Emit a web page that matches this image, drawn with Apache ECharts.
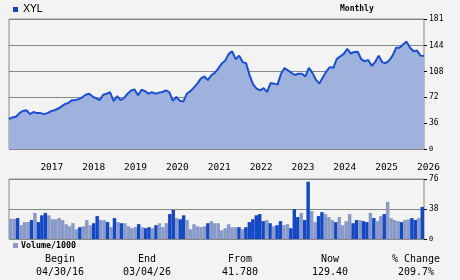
<!DOCTYPE html>
<html><head><meta charset="utf-8">
<script src="https://cdn.jsdelivr.net/npm/echarts@6/dist/echarts.min.js"></script>
<style>html,body{margin:0;padding:0;background:#f3f3f3}#c{width:460px;height:280px}</style>
</head><body><div id="c"></div>
<script>
// ---- data ----
const startYear = 2016, startMonth = 4; // first monthly point: Apr 2016
const price = [41.78,44,45,50,53,54,48.5,51.5,50,50,
 48.5,50,52.5,54,56,59,62.5,64,68,68,
 69.5,72,75.5,77,73,70.5,68,75.5,77,79,
 66.5,73.5,68,71,77,81.5,83,74.8,82.5,80.6,
 77,79,77,78.5,79.4,81.7,79,67,72.5,67,
 66,77,80.6,85.4,91,98,101,96,102.5,106,
 112,119,123,132.5,136,125,130,121,119.5,102.5,
 90,84,81.7,84.7,79.4,91.8,91,89.6,104.8,112.6,
 109.6,106,103,104.8,104.8,101,113,106,96.5,91,
 100,108,114,113,125.5,129,132.5,139.4,133,135,
 135.5,125,122,124,116,121,130,121,119.5,123,
 130,141,141,145.5,149.5,141,136,137,130,129.4];
const volume = [25.6,25.6,26.5,17.5,21.4,21.4,24,33,21.4,30,
 33,30,25,25,26.5,24,18.8,16.2,20,12.4,
 15,16.2,24,17.5,20,29,24,24,21.4,15,
 26.5,21.4,20,20,16.2,13.7,15,18.8,15,13.7,
 15,13.7,17.5,20,15,20,31.6,36.7,26.5,25,
 30,24,12.4,18.8,16.2,15,16.2,20,22.6,20,
 20,11,13.7,18.8,15,15,15,12.4,15,21.4,
 25,30,31.6,22.6,24,20,16.2,17.5,22.6,17.5,
 18.8,13.7,38,27.8,33,24,72.6,35.4,21.4,29,
 34,31.6,27.8,24,21.4,27.8,17.5,22.6,31.6,20,
 24,24,22.6,21.4,33,26.5,22.6,29,31.6,47,
 26.5,24,22.6,21.4,24,25,26.5,24,26.5,40.6];
// 1 = dark bar, 0 = light bar
const volDark = [0,0,1,0,0,0,1,0,1,1,
 1,0,0,0,0,0,0,0,0,0,
 1,0,0,0,1,1,0,0,1,0,
 1,0,1,0,0,0,0,1,0,1,
 1,0,1,0,0,0,1,1,0,1,
 1,0,0,0,0,0,0,1,0,0,
 0,0,0,0,0,0,1,0,1,1,
 1,1,1,1,0,1,0,1,1,0,
 0,1,1,1,0,1,1,0,0,1,
 1,0,0,0,1,0,0,0,0,1,
 1,0,1,1,0,1,0,0,1,0,
 0,0,0,1,0,0,1,1,0,1];
const priceTicks = [0,36,72,108,144,181];
const volTicks = [0,38,76];
const summaryHeads = ['Begin','End','From','Now','% Change'];
const summaryVals = ['04/30/16','03/04/26','41.780','129.40','209.7%'];
const ticker = 'XYL', period = 'Monthly', volLabel = 'Volume/1000';

const months = [];
for (let i = 0; i < price.length; i++) {
  const m = startMonth - 1 + i;
  const y = startYear + Math.floor(m / 12);
  const mm = (m % 12) + 1;
  months.push(y + '-' + (mm < 10 ? '0' + mm : mm));
}

const DARK = '#1247c6', LIGHT = '#8a9ac6', LINE = '#1a4fd4', AREA = '#9fb1dd', GRID = '#888888';
const MONO = '"DejaVu Sans Mono", monospace';

const chart = echarts.init(document.getElementById('c'), null, {renderer: 'canvas'});
const summaryX = [60, 147, 240, 330, 416];
const graphics = [
  {type:'rect', shape:{x:13,y:7,width:5,height:5}, style:{fill:DARK}},
  {type:'text', x:23, y:9, style:{text:ticker, font:'10.5px "DejaVu Sans"', fill:'#000', verticalAlign:'middle'}},
  {type:'text', x:340, y:9, style:{text:period, font:'bold 8px ' + MONO, fill:'#000', verticalAlign:'middle'}},
  {type:'rect', shape:{x:13,y:243,width:5,height:5}, style:{fill:LIGHT}},
  {type:'text', x:21, y:245.5, style:{text:volLabel, font:'bold 8.3px ' + MONO, fill:'#000', verticalAlign:'middle'}}
];
summaryHeads.forEach((t, i) => {
  graphics.push({type:'text', x:summaryX[i], y:259, style:{text:t, font:'10px ' + MONO, fill:'#000', align:'center', verticalAlign:'middle'}});
  graphics.push({type:'text', x:summaryX[i], y:272, style:{text:summaryVals[i], font:'10px ' + MONO, fill:'#000', align:'center', verticalAlign:'middle'}});
});

const yLabel = {
  color:'#000', fontFamily:MONO, fontSize:8, margin:5,
  formatter: v => v === 0 ? '{s|0}' : String(v),
  rich: {s: {fontSize:7, fontFamily:MONO, color:'#000'}}
};

chart.setOption({
  animation: false,
  backgroundColor: '#f3f3f3',
  graphic: graphics,
  grid: [
    {left:9, right:36, top:19, height:130, show:true, borderColor:GRID, borderWidth:1, backgroundColor:'transparent'},
    {left:9, right:36, top:179, height:60, show:true, borderColor:GRID, borderWidth:1, backgroundColor:'transparent'}
  ],
  xAxis: [
    {type:'category', gridIndex:0, data:months, boundaryGap:false,
     axisLine:{show:false}, axisTick:{show:false},
     axisLabel:{interval:(i, v) => v.slice(5) === '01', formatter:v => v.slice(0,4),
       align:'left', margin:14, fontSize:9.5, fontFamily:MONO, color:'#000'},
     splitLine:{show:false}},
    {type:'category', gridIndex:1, data:months, show:false}
  ],
  yAxis: [
    {type:'value', gridIndex:0, position:'right', min:priceTicks[0], max:priceTicks[priceTicks.length-1], interval:36,
     axisLine:{show:false}, axisTick:{show:true, length:3, lineStyle:{color:'#000'}},
     axisLabel:Object.assign({customValues:priceTicks}, yLabel),
     axisTick:{show:true, length:3, lineStyle:{color:'#000'}, customValues:priceTicks},
     splitLine:{show:true, lineStyle:{color:GRID, width:1}}},
    {type:'value', gridIndex:1, position:'right', min:volTicks[0], max:volTicks[volTicks.length-1], interval:38,
     axisLine:{show:false}, axisTick:{show:true, length:3, lineStyle:{color:'#000'}},
     axisLabel:yLabel,
     splitLine:{show:true, lineStyle:{color:GRID, width:1}}}
  ],
  series: [
    {type:'line', xAxisIndex:0, yAxisIndex:0, data:price, showSymbol:false, symbol:'none',
     lineStyle:{color:LINE, width:2}, areaStyle:{color:AREA, opacity:1}, z:3},
    {type:'bar', xAxisIndex:1, yAxisIndex:1, barCategoryGap:'0%',
     data: volume.map((v, i) => ({value:v, itemStyle:{color: volDark[i] ? DARK : LIGHT}}))}
  ]
});
</script></body></html>
